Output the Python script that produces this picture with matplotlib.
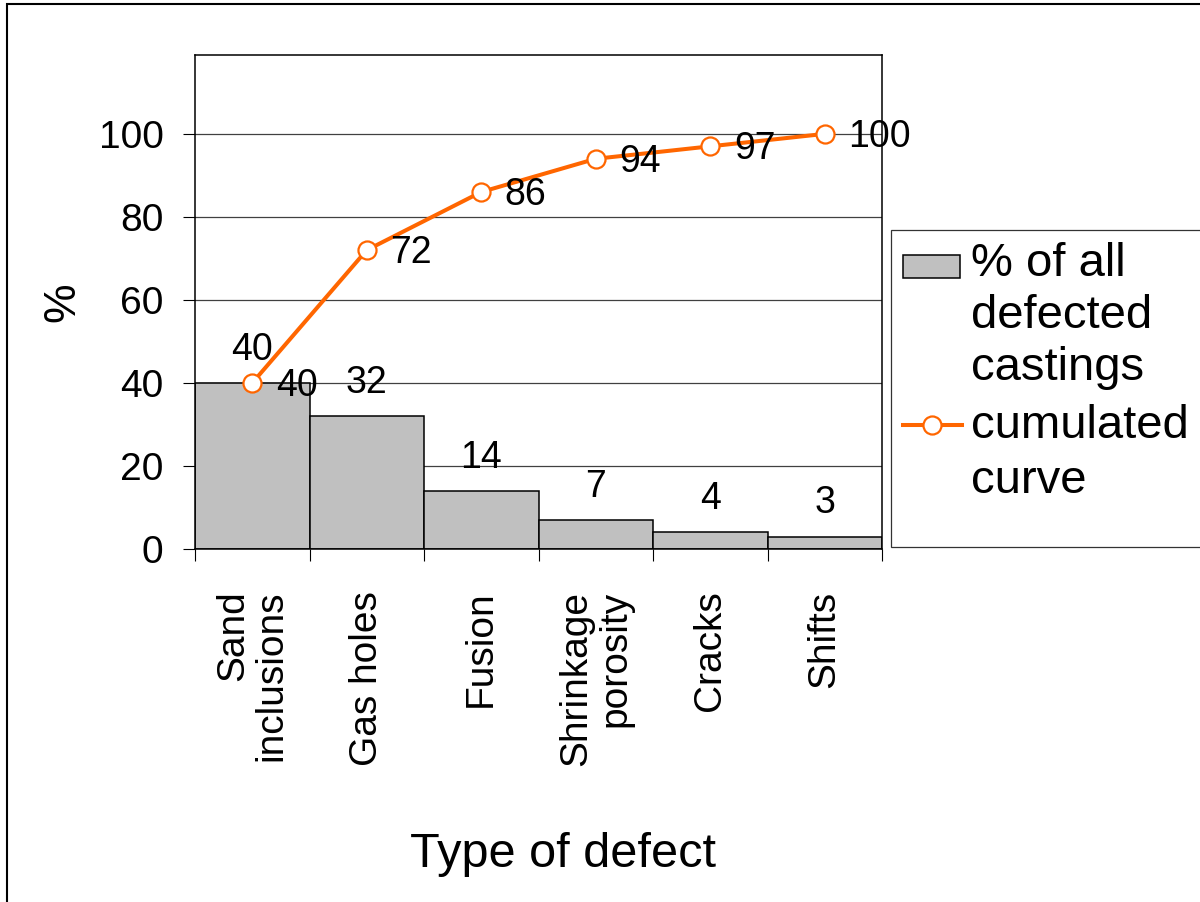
import matplotlib

matplotlib.use("Agg")

import matplotlib.pyplot as plt
import numpy as np
from matplotlib.lines import Line2D
from matplotlib.patches import Rectangle

plt.rcParams["font.family"] = ["Liberation Sans", "DejaVu Sans"]

# Pareto data for casting defects
defect_types = ["Sand\ninclusions", "Gas holes", "Fusion", "Shrinkage\nporosity", "Cracks", "Shifts"]
share = [40, 32, 14, 7, 4, 3]
cumulated = [40, 72, 86, 94, 97, 100]
y_ticks = [0, 20, 40, 60, 80, 100]
legend_labels = ["% of all\ndefected\ncastings", "cumulated\ncurve"]

BAR_GREY = "#C0C0C0"
CURVE_ORANGE = "#FF6600"
W, H = 1200, 902


def fig_box(left, top, right, bottom):
    # pixel box -> figure fraction rectangle
    return [left / W, 1 - bottom / H, (right - left) / W, (bottom - top) / H]


fig = plt.figure(figsize=(W / 100, H / 100), dpi=100)
ax = fig.add_axes(fig_box(195, 55, 882, 549))

x = np.arange(len(defect_types))
ax.bar(x, share, width=1.0, color=BAR_GREY, edgecolor="black", linewidth=1.1, zorder=2)
for xi, v in zip(x, share):
    ax.annotate(f"{v}", (xi, v), xytext=(0, 24), textcoords="offset points",
                ha="center", va="center", fontsize=27)

ax.plot(x, cumulated, color=CURVE_ORANGE, linewidth=2.9, marker="o", markersize=13,
        markerfacecolor="white", markeredgecolor=CURVE_ORANGE, markeredgewidth=1.6,
        zorder=4, clip_on=False)
for xi, v in zip(x, cumulated):
    ax.annotate(f"{v}", (xi, v), xytext=(17, -2), textcoords="offset points",
                ha="left", va="center", fontsize=27, zorder=5)

ax.set_xlim(-0.5, len(defect_types) - 0.5)
ax.set_ylim(0, 119)
ax.set_yticks(y_ticks)
ax.yaxis.grid(True, color="0.25", linewidth=0.9)
ax.set_axisbelow(True)

ax.set_xticks(x)
ax.set_xticklabels(defect_types, rotation=90, ha="center", va="top",
                   multialignment="right", fontsize=28, linespacing=1.09)
ax.set_xticks(np.arange(len(defect_types) + 1) - 0.5, minor=True)
ax.tick_params(axis="x", which="major", length=0, pad=30)
ax.tick_params(axis="x", which="minor", length=8.6, width=0.8, direction="out")
ax.tick_params(axis="y", length=8.6, width=0.8, direction="out", pad=14, labelsize=28)

for spine in ax.spines.values():
    spine.set_linewidth(1.1)

ax.set_ylabel("%", fontsize=32)
ax.yaxis.set_label_coords(-0.163, 0.5)
ax.set_xlabel("Type of defect", fontsize=35)
ax.xaxis.set_label_coords(0.536, -0.572)

# outer chart border, cut off at the right and bottom edges
fig.patches.append(Rectangle((7 / W, -0.1), 1.2, 1.1 - 4 / H, transform=fig.transFigure,
                             fill=False, edgecolor="black", linewidth=1.5))

# legend box drawn by hand so the keys sit on the first line of each entry
fig.patches.append(Rectangle((891 / W, 1 - 547 / H), 0.3, (547 - 230) / H,
                             transform=fig.transFigure, facecolor="white",
                             edgecolor="0.2", linewidth=0.9))
fig.patches.append(Rectangle((903 / W, 1 - 278 / H), 57 / W, 23 / H,
                             transform=fig.transFigure, facecolor=BAR_GREY,
                             edgecolor="black", linewidth=1.1))
fig.lines.append(Line2D(np.array([903, 932, 962]) / W, [1 - 425 / H] * 3,
                        transform=fig.transFigure, color=CURVE_ORANGE, linewidth=2.9,
                        marker="o", markersize=13, markevery=[1], markerfacecolor="white",
                        markeredgecolor=CURVE_ORANGE, markeredgewidth=1.6))
for label, top, spacing in zip(legend_labels, [242, 404], [1.235, 1.32]):
    fig.text(971 / W, 1 - top / H, label, fontsize=34, va="top", linespacing=spacing)

fig.savefig("out.png", dpi=100)
